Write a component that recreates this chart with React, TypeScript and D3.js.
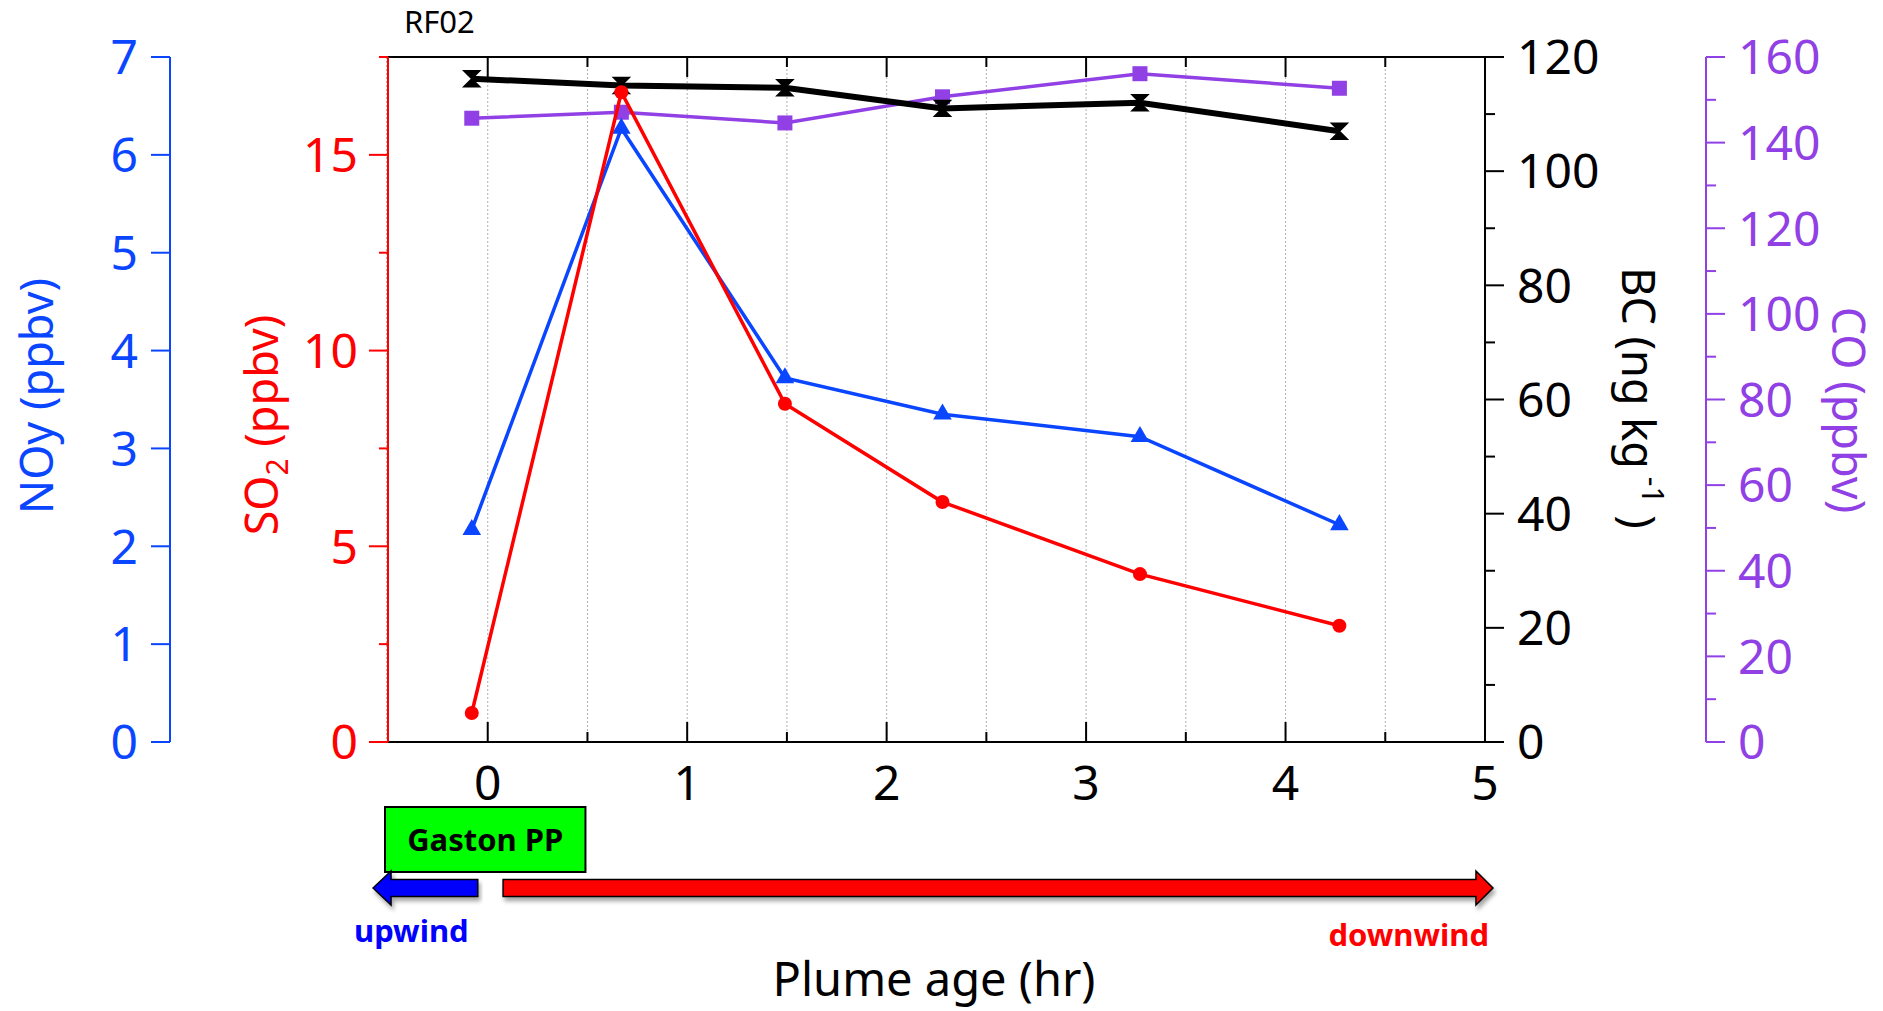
import { scaleLinear, line as d3_line, symbol, symbolTriangle, symbolSquare } from "d3";

// plume transect, RF02
const plumeAge = [-0.08, 0.67, 1.49, 2.28, 3.27, 4.27];
const noy = [2.17, 6.27, 3.72, 3.35, 3.12, 2.22];
const so2 = [0.74, 16.6, 8.64, 6.13, 4.29, 2.97];
const bc = [116.2, 115.0, 114.6, 111.0, 112.0, 107.0];
const bcErr = [1.4, 1.4, 1.4, 1.4, 1.4, 1.4];
const co = [145.7, 147.1, 144.6, 150.7, 156.1, 152.7];

const xTicks = [0, 1, 2, 3, 4, 5];
const xMinor = [-0.5, 0.5, 1.5, 2.5, 3.5, 4.5];
const gridX = [-0.5, 0, 0.5, 1, 1.5, 2, 2.5, 3, 3.5, 4, 4.5];
const noyTicks = [0, 1, 2, 3, 4, 5, 6, 7];
const so2Ticks = [0, 5, 10, 15];
const so2Minor = [2.5, 7.5, 12.5, 17.5];
const bcTicks = [0, 20, 40, 60, 80, 100, 120];
const bcMinor = [10, 30, 50, 70, 90, 110];
const coTicks = [0, 20, 40, 60, 80, 100, 120, 140, 160];
const coMinor = [10, 30, 50, 70, 90, 110, 130, 150];

// annotation spans below the axis, in plume-age units
const sourceBox = [-0.515, 0.49];
const upwindArrow = [-0.575, -0.05];
const downwindArrow = [0.077, 5.04];

const W = 1883;
const H = 1011;
const plot = { left: 388, right: 1485, top: 57, bottom: 742 };

const BLUE = "#0a46ff";
const RED = "#ff0000";
const PURPLE = "#9040e4";
const FONT = "'Noto Sans', sans-serif";

export default function App() {
  const x = scaleLinear().domain([-0.5, 5]).range([plot.left, plot.right]);
  const yNoy = scaleLinear().domain([0, 7]).range([plot.bottom, plot.top]);
  const ySo2 = scaleLinear().domain([0, 17.5]).range([plot.bottom, plot.top]);
  const yBc = scaleLinear().domain([0, 120]).range([plot.bottom, plot.top]);
  const yCo = scaleLinear().domain([0, 160]).range([plot.bottom, plot.top]);

  const mk = (y: (v: number) => number) =>
    d3_line<number>()
      .x((_, i) => x(plumeAge[i]))
      .y((d) => y(d));

  const tri = symbol(symbolTriangle, 150)() ?? "";
  const sq = symbol(symbolSquare, 225)() ?? "";

  const noyAxisX = 170;
  const coAxisX = 1706;

  const arrowY = 888;
  const bodyH = 17;
  const headH = 34;

  const blueL = x(upwindArrow[0]);
  const blueR = x(upwindArrow[1]);
  const redL = x(downwindArrow[0]);
  const redR = x(downwindArrow[1]);

  return (
    <svg
      width={W}
      height={H}
      style={{ position: "absolute", left: 0, top: 0, display: "block" }}
      fontFamily={FONT}
    >
      <defs>
        <filter id="shadow" x="-5%" y="-50%" width="110%" height="200%">
          <feDropShadow dx="2" dy="4" stdDeviation="2" floodColor="#000" floodOpacity="0.35" />
        </filter>
      </defs>
      <rect width={W} height={H} fill="#fff" />

      {/* grid */}
      {gridX.map((g) => (
        <line
          key={g}
          x1={x(g) - (g === -0.5 ? 1.5 : 0)}
          x2={x(g) - (g === -0.5 ? 1.5 : 0)}
          y1={plot.top}
          y2={plot.bottom}
          stroke="#b0b0b0"
          strokeWidth={1}
          strokeDasharray="2,2"
        />
      ))}

      {/* frame top / bottom / right */}
      <line x1={plot.left} x2={plot.right + 19} y1={plot.top} y2={plot.top} stroke="#000" strokeWidth={2} />
      <line x1={plot.left} x2={plot.right + 19} y1={plot.bottom} y2={plot.bottom} stroke="#000" strokeWidth={2} />
      <line x1={plot.right} x2={plot.right} y1={plot.top} y2={plot.bottom} stroke="#000" strokeWidth={2} />

      {/* x ticks, top and bottom, inward */}
      {xTicks.map((t) => (
        <g key={"xt" + t}>
          <line x1={x(t)} x2={x(t)} y1={plot.bottom} y2={plot.bottom - 20} stroke="#000" strokeWidth={2} />
          <line x1={x(t)} x2={x(t)} y1={plot.top} y2={plot.top + 20} stroke="#000" strokeWidth={2} />
          <text x={x(t)} y={800} textAnchor="middle" fontSize={48} fill="#000">
            {t}
          </text>
        </g>
      ))}
      {xMinor.map((t) => (
        <g key={"xm" + t}>
          <line x1={x(t)} x2={x(t)} y1={plot.bottom} y2={plot.bottom - 10} stroke="#000" strokeWidth={2} />
          <line x1={x(t)} x2={x(t)} y1={plot.top} y2={plot.top + 10} stroke="#000" strokeWidth={2} />
        </g>
      ))}

      {/* NOy axis (far left) */}
      <line x1={noyAxisX} x2={noyAxisX} y1={plot.top} y2={plot.bottom} stroke={BLUE} strokeWidth={2} />
      {noyTicks.map((t) => (
        <g key={"n" + t}>
          <line x1={noyAxisX - 19} x2={noyAxisX} y1={yNoy(t)} y2={yNoy(t)} stroke={BLUE} strokeWidth={2} />
          <text x={138} y={yNoy(t)} dy="0.36em" textAnchor="end" fontSize={48} fill={BLUE}>
            {t}
          </text>
        </g>
      ))}
      <text
        transform={`translate(53,396) rotate(-90)`}
        textAnchor="middle"
        fontSize={45}
        fill={BLUE}
      >
        NOy (ppbv)
      </text>

      {/* SO2 axis */}
      <line x1={plot.left} x2={plot.left} y1={plot.top} y2={plot.bottom} stroke={RED} strokeWidth={2} />
      {so2Ticks.map((t) => (
        <g key={"s" + t}>
          <line x1={plot.left - 19} x2={plot.left} y1={ySo2(t)} y2={ySo2(t)} stroke={RED} strokeWidth={2} />
          <text x={358} y={ySo2(t)} dy="0.36em" textAnchor="end" fontSize={48} fill={RED}>
            {t}
          </text>
        </g>
      ))}
      {so2Minor.map((t) => (
        <line key={"sm" + t} x1={plot.left - 9} x2={plot.left} y1={ySo2(t)} y2={ySo2(t)} stroke={RED} strokeWidth={2} />
      ))}
      <text transform={`translate(278,425) rotate(-90)`} textAnchor="middle" fontSize={45} fill={RED}>
        SO
        <tspan fontSize={30} dy={10}>
          2
        </tspan>
        <tspan dy={-10}> (ppbv)</tspan>
      </text>

      {/* BC axis */}
      {bcTicks.map((t) => (
        <g key={"b" + t}>
          <line x1={plot.right} x2={plot.right + 19} y1={yBc(t)} y2={yBc(t)} stroke="#000" strokeWidth={2} />
          <text x={1517} y={yBc(t)} dy="0.36em" fontSize={48} fill="#000">
            {t}
          </text>
        </g>
      ))}
      {bcMinor.map((t) => (
        <line key={"bm" + t} x1={plot.right} x2={plot.right + 10} y1={yBc(t)} y2={yBc(t)} stroke="#000" strokeWidth={2} />
      ))}
      <text transform={`translate(1622,398) rotate(90)`} textAnchor="middle" fontSize={45} fill="#000">
        BC (ng kg
        <tspan fontSize={30} dy={-20}>
          {" -1"}
        </tspan>
        <tspan dy={20}> )</tspan>
      </text>

      {/* CO axis */}
      <line x1={coAxisX} x2={coAxisX} y1={plot.top} y2={plot.bottom} stroke={PURPLE} strokeWidth={2} />
      {coTicks.map((t) => (
        <g key={"c" + t}>
          <line x1={coAxisX} x2={coAxisX + 19} y1={yCo(t)} y2={yCo(t)} stroke={PURPLE} strokeWidth={2} />
          <text x={1738} y={yCo(t)} dy="0.36em" fontSize={48} fill={PURPLE}>
            {t}
          </text>
        </g>
      ))}
      {coMinor.map((t) => (
        <line key={"cm" + t} x1={coAxisX} x2={coAxisX + 10} y1={yCo(t)} y2={yCo(t)} stroke={PURPLE} strokeWidth={2} />
      ))}
      <text transform={`translate(1832,410) rotate(90)`} textAnchor="middle" fontSize={45} fill={PURPLE}>
        CO (ppbv)
      </text>

      {/* CO series */}
      <path d={mk(yCo)(co) ?? ""} fill="none" stroke={PURPLE} strokeWidth={3.5} />
      {co.map((v, i) => (
        <path key={"co" + i} d={sq} transform={`translate(${x(plumeAge[i])},${yCo(v)})`} fill={PURPLE} />
      ))}

      {/* BC series */}
      <path d={mk(yBc)(bc) ?? ""} fill="none" stroke="#000" strokeWidth={6} />
      {bc.map((v, i) => {
        const cx = x(plumeAge[i]);
        const t = yBc(v + bcErr[i]);
        const b = yBc(v - bcErr[i]);
        return (
          <path
            key={"bc" + i}
            d={`M${cx - 8},${t}L${cx + 8},${t}L${cx - 8},${b}L${cx + 8},${b}Z`}
            fill="#000"
            stroke="#000"
            strokeWidth={1.5}
          />
        );
      })}

      {/* NOy series */}
      <path d={mk(yNoy)(noy) ?? ""} fill="none" stroke={BLUE} strokeWidth={3.5} />
      {noy.map((v, i) => (
        <path key={"no" + i} d={tri} transform={`translate(${x(plumeAge[i])},${yNoy(v)})`} fill={BLUE} />
      ))}

      {/* SO2 series */}
      <path d={mk(ySo2)(so2) ?? ""} fill="none" stroke={RED} strokeWidth={3.5} />
      {so2.map((v, i) => (
        <circle key={"so" + i} cx={x(plumeAge[i])} cy={ySo2(v)} r={7} fill={RED} />
      ))}

      {/* title */}
      <text x={404} y={33} fontSize={31} fill="#000">
        RF02
      </text>

      {/* source + wind arrows */}
      <rect
        x={x(sourceBox[0])}
        y={807}
        width={x(sourceBox[1]) - x(sourceBox[0])}
        height={65}
        fill="#00ff00"
        stroke="#000"
        strokeWidth={2}
      />
      <text
        x={(x(sourceBox[0]) + x(sourceBox[1])) / 2}
        y={851}
        textAnchor="middle"
        fontSize={31}
        fontWeight="bold"
        fill="#000"
      >
        Gaston PP
      </text>

      <path
        filter="url(#shadow)"
        d={`M${blueL},${arrowY}L${blueL + 18},${arrowY - headH / 2}L${blueL + 18},${arrowY - bodyH / 2}L${blueR},${arrowY - bodyH / 2}L${blueR},${arrowY + bodyH / 2}L${blueL + 18},${arrowY + bodyH / 2}L${blueL + 18},${arrowY + headH / 2}Z`}
        fill="#0000ff"
        stroke="#000"
        strokeWidth={1.5}
      />
      <path
        filter="url(#shadow)"
        d={`M${redR},${arrowY}L${redR - 17},${arrowY - headH / 2}L${redR - 17},${arrowY - bodyH / 2}L${redL},${arrowY - bodyH / 2}L${redL},${arrowY + bodyH / 2}L${redR - 17},${arrowY + bodyH / 2}L${redR - 17},${arrowY + headH / 2}Z`}
        fill="#ff0000"
        stroke="#000"
        strokeWidth={1.5}
      />
      <text x={354} y={942} fontSize={31} fontWeight="bold" fill="#0000ff">
        upwind
      </text>
      <text x={1489} y={946} textAnchor="end" fontSize={31} fontWeight="bold" fill="#ff0000">
        downwind
      </text>

      <text x={934} y={996} textAnchor="middle" fontSize={47} fill="#000">
        Plume age (hr)
      </text>
    </svg>
  );
}
